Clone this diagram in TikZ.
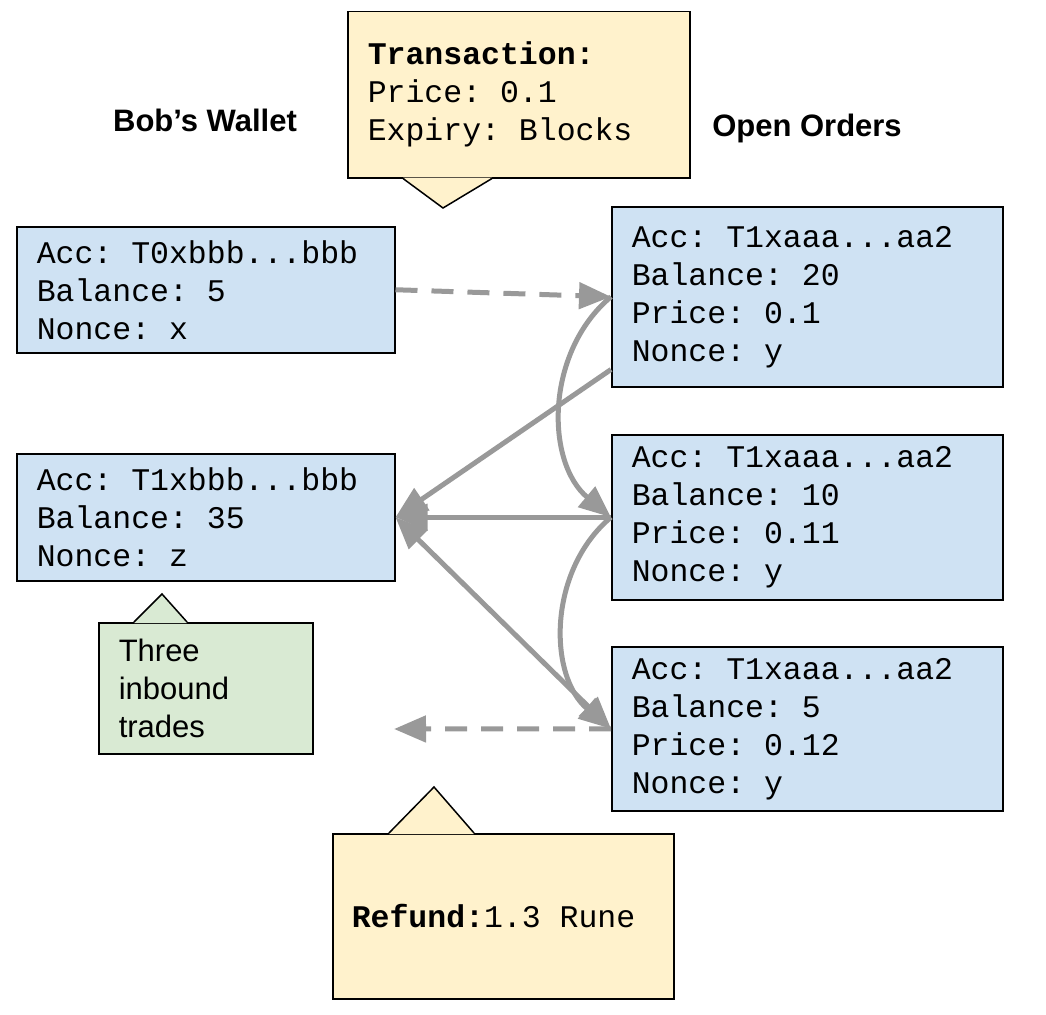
\documentclass[tikz,border=0pt]{standalone}
\usepackage{fontspec}
\setmainfont{Liberation Sans}
\newfontfamily\codefont{Liberation Mono}
\usetikzlibrary{arrows.meta}
\definecolor{accblue}{HTML}{CFE2F3}
\definecolor{noteyellow}{HTML}{FFF2CC}
\definecolor{notegreen}{HTML}{D9EAD3}
\definecolor{flowgray}{HTML}{999999}
\tikzset{
  acc/.style={draw, line width=1.5pt, fill=accblue, anchor=north west, align=left,
    inner xsep=20pt, inner ysep=0pt, font={\codefont\fontsize{31.5}{38}\selectfont},
    execute at begin node={\frenchspacing\spaceskip=0pt\xspaceskip=0pt}},
  note/.style={acc, fill=noteyellow},
  head/.style={font={\bfseries\fontsize{31}{38}\selectfont}},
  flow/.style={draw=flowgray, line width=5pt},
  flowdash/.style={flow, dash pattern=on 22pt off 14pt},
  pointer/.style={line width=1.5pt, line join=miter}
}
\begin{document}
\begin{tikzpicture}[x=1pt,y=-1pt,>={Triangle[length=32pt,width=26pt]}]
    \useasboundingbox (0,0) rectangle (1046,1014);
    \node[head] at (205,120) {Bob’s Wallet};
    \node[head] at (807,128) {Open Orders};
    % wallet
    \node[acc, text width=338pt, minimum height=126pt] (A0_0) at (16,226)
      {Acc: T0xbbb...bbb\\Balance: 5\\Nonce: x};
    \node[acc, text width=338pt, minimum height=127pt] (A1_0) at (16,453)
      {Acc: T1xbbb...bbb\\Balance: 35\\Nonce: z};
    % open orders
    \node[acc, text width=351pt, minimum height=180pt] (A0_2) at (611,206)
      {Acc: T1xaaa...aa2\\Balance: 20\\Price: 0.1\\Nonce: y};
    \node[acc, text width=351pt, minimum height=165pt] (A1_2) at (611,434)
      {Acc: T1xaaa...aa2\\Balance: 10\\Price: 0.11\\Nonce: y};
    \node[acc, text width=351pt, minimum height=164pt] (A2_2) at (611,646)
      {Acc: T1xaaa...aa2\\Balance: 5\\Price: 0.12\\Nonce: y};
    % callouts
    \node[note, text width=302pt, minimum height=166pt] (T) at (347,11)
      {\textbf{Transaction:}\\Price: 0.1\\Expiry: Blocks};
    \coordinate (Ttip) at (443,208);
    \fill[noteyellow] ([xshift=56pt,yshift=1pt]T.south west) -- (Ttip) -- ([xshift=145pt,yshift=1pt]T.south west) -- cycle;
    \draw[pointer] ([xshift=56pt]T.south west) -- (Ttip) -- ([xshift=145pt]T.south west);
    \node[note, fill=notegreen, text width=174pt, minimum height=131pt,
      font={\fontsize{31}{38}\selectfont}] (G) at (98,622)
      {Three\\inbound\\trades};
    \coordinate (Gtip) at (162,594);
    \fill[notegreen] ([xshift=36pt,yshift=-1pt]G.north west) -- (Gtip) -- ([xshift=89pt,yshift=-1pt]G.north west) -- cycle;
    \draw[pointer] ([xshift=36pt]G.north west) -- (Gtip) -- ([xshift=89pt]G.north west);
    \node[note, inner xsep=19pt, text width=303pt, minimum height=165pt] (Rf) at (332,833)
      {\textbf{Refund:}1.3 Rune};
    \coordinate (Rtip) at (434,787);
    \fill[noteyellow] ([xshift=57pt,yshift=-1pt]Rf.north west) -- (Rtip) -- ([xshift=142pt,yshift=-1pt]Rf.north west) -- cycle;
    \draw[pointer] ([xshift=57pt]Rf.north west) -- (Rtip) -- ([xshift=142pt]Rf.north west);
    % trades
    \coordinate (Rend) at (394,729);
    \path (A0_0.east) edge [flowdash,->] (A0_2.west);
    \path ([yshift=18pt]A0_2.south west) edge [flow,->] (A1_0.east);
    \path (A1_2.west) edge [flow,->] (A1_0.east);
    \path (A1_0.east) edge [flow,<->] (A2_2.west);
    \path (A0_2.west) edge [flow,->,bend right=50] (A1_2.west);
    \path (A1_2.west) edge [flow,->,bend right=50] (A2_2.west);
    \path (A2_2.west) edge [flowdash,->] (Rend);
\end{tikzpicture}
\end{document}
